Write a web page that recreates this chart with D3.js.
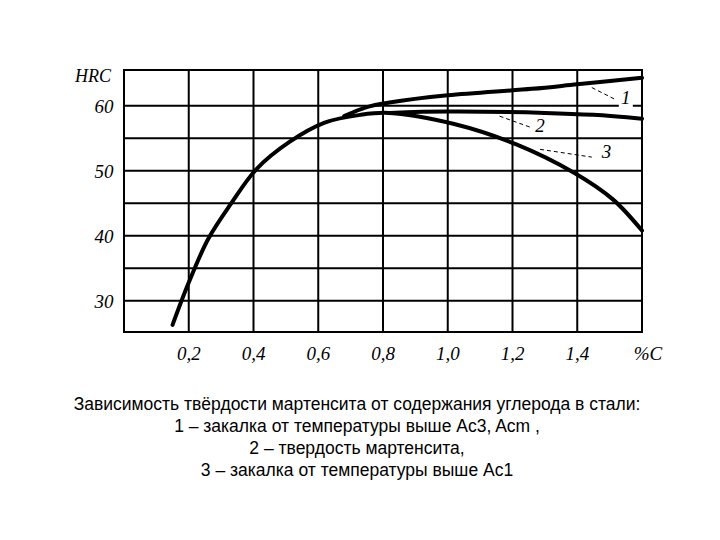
<!DOCTYPE html><html><head><meta charset="utf-8"><script src="https://cdn.jsdelivr.net/npm/d3@7"></script>
<style>body{margin:0;background:#fff}</style></head><body><svg id="c" width="720" height="540"></svg>
<script>
const xTicks=[0.2,0.4,0.6,0.8,1.0,1.2,1.4];
const xTickLabels=["0,2","0,4","0,6","0,8","1,0","1,2","1,4"];
const yGrid=[30,35,40,45,50,55,60];
const yTickValues=[30,40,50,60];
const curve3=[[0.15,26.3],[0.2,32.8],[0.26,39.5],[0.33,44.9],[0.41,50.3],[0.51,54.4],[0.62,57.4],[0.73,58.6],[0.82,58.9],[1.02,57.2],[1.21,54.1],[1.39,49.7],[1.51,45.6],[1.6,40.8]];
const curve2=[[0.82,58.9],[1.0,59.1],[1.3,58.9],[1.45,58.6],[1.6,58.0]];
const curve1=[[0.68,58.4],[0.75,59.8],[0.82,60.5],[1.0,61.6],[1.26,62.6],[1.4,63.3],[1.6,64.3]];
const labels=[{t:"1",x:1.55,y:60.2},{t:"2",x:1.285,y:56.0},{t:"3",x:1.49,y:52.0}];
const leaders=[[[1.445,62.8],[1.52,60.9]],[[1.16,58.4],[1.255,56.7]],[[1.285,53.3],[1.445,52.1]]];
const caption=["Зависимость твёрдости мартенсита от содержания углерода в стали:","1 – закалка от температуры выше Ac3, Acm ,","2 – твердость мартенсита,","3 – закалка от температуры выше Ac1"];

const svg=d3.select("#c");
const x=d3.scaleLinear().domain([0,1.6]).range([124,642]);
const y=d3.scaleLinear().domain([25.2,65.5]).range([332,70]);
const g=svg.append("g");
g.selectAll(".v").data(xTicks).join("line").attr("x1",d=>x(d)).attr("x2",d=>x(d)).attr("y1",y.range()[1]).attr("y2",y.range()[0]).attr("stroke","#000").attr("stroke-width",2);
g.selectAll(".h").data(yGrid).join("line").attr("y1",d=>y(d)).attr("y2",d=>y(d)).attr("x1",124).attr("x2",642).attr("stroke","#000").attr("stroke-width",2);
g.append("rect").attr("x",124).attr("y",70).attr("width",518).attr("height",262).attr("fill","none").attr("stroke","#000").attr("stroke-width",2);
const serif="'Liberation Serif','DejaVu Serif',serif";
svg.selectAll(".xl").data(xTicks).join("text").attr("x",d=>x(d)).attr("y",360).attr("text-anchor","middle").attr("font-family",serif).attr("font-style","italic").attr("font-size",19).text((d,i)=>xTickLabels[i]);
svg.append("text").attr("x",648).attr("y",360).attr("text-anchor","middle").attr("font-family",serif).attr("font-style","italic").attr("font-size",19).text("%C");
svg.selectAll(".yl").data(yTickValues).join("text").attr("x",104).attr("y",d=>y(d)+7).attr("text-anchor","middle").attr("font-family",serif).attr("font-style","italic").attr("font-size",19).text(d=>d);
svg.append("text").attr("x",93).attr("y",82).attr("text-anchor","middle").attr("font-family",serif).attr("font-style","italic").attr("font-size",18).text("HRC");
const line=d3.line().x(d=>x(d[0])).y(d=>y(d[1])).curve(d3.curveCatmullRom.alpha(0.5));
[curve3,curve2,curve1].forEach(c=>svg.append("path").attr("d",line(c)).attr("fill","none").attr("stroke","#000").attr("stroke-width",4).attr("stroke-linecap","round"));
leaders.forEach(l=>svg.append("line").attr("x1",x(l[0][0])).attr("y1",y(l[0][1])).attr("x2",x(l[1][0])).attr("y2",y(l[1][1])).attr("stroke","#000").attr("stroke-width",1).attr("stroke-dasharray","4,3"));
labels.forEach(l=>{svg.append("rect").attr("x",x(l.x)-7).attr("y",y(l.y)-16).attr("width",14).attr("height",20).attr("fill","#fff");
svg.append("text").attr("x",x(l.x)).attr("y",y(l.y)).attr("text-anchor","middle").attr("font-family",serif).attr("font-style","italic").attr("font-size",19).text(l.t);});
svg.selectAll(".cap").data(caption).join("text").attr("x",357).attr("y",(d,i)=>410+i*22).attr("text-anchor","middle").attr("font-family","'Liberation Sans',Arial,sans-serif").attr("font-size",17.5).text(d=>d);
</script></body></html>
